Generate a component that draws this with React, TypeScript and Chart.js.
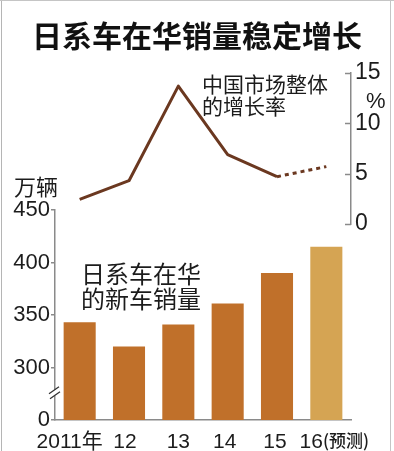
import React, { useEffect, useRef } from "react";
import { Chart, registerables } from "chart.js";

Chart.register(...registerables);

const categories = ["2011年", "12", "13", "14", "15", "16(预测)"];
const salesValues = [343, 320, 341, 361, 390, 415];
const growthValues = [2.45, 4.3, 13.7, 6.9, 4.7, 5.7];
const leftTicks = [250, 300, 350, 400, 450];
const leftTickLabels = ["0", "300", "350", "400", "450"];
const rightTicks = [0, 5, 10, 15];

const X_LABEL_SHIFT = [-10, -4, 0, -3, -2, 8];
const BAR_COLOR = "#c0702a";
const BAR_FORECAST = "#d5a453";
const LINE_COLOR = "#6b3820";
const AXIS_COLOR = "#8a8a8a";
const TEXT_COLOR = "#1c1c1c";
const CJK = '"Noto Sans CJK SC", sans-serif';
const NUM = '"Liberation Sans", "Noto Sans CJK SC", sans-serif';

const W = 394;
const H = 451;

export default function App() {
  const barRef = useRef<HTMLCanvasElement | null>(null);
  const lineRef = useRef<HTMLCanvasElement | null>(null);

  useEffect(() => {
    if (!barRef.current || !lineRef.current) return;

    const xLabelPlugin = {
      id: "xLabels",
      afterDraw(chart: any) {
        const { ctx } = chart;
        const x = chart.scales.x;
        ctx.save();
        ctx.fillStyle = TEXT_COLOR;
        ctx.textBaseline = "alphabetic";
        ctx.textAlign = "left";
        const base = 448;
        categories.forEach((lab, i) => {
          const cx = x.getPixelForValue(i) + X_LABEL_SHIFT[i];
          const idx = lab.indexOf("(");
          const main = idx >= 0 ? lab.slice(0, idx) : lab;
          const extra = idx >= 0 ? lab.slice(idx) : "";
          ctx.font = `21px ${NUM}`;
          const w1 = ctx.measureText(main).width;
          ctx.font = `500 17px ${CJK}`;
          const w2 = extra ? ctx.measureText(extra).width : 0;
          const start = cx - (w1 + w2) / 2;
          ctx.font = `21px ${NUM}`;
          ctx.fillText(main, start, base);
          if (extra) {
            ctx.font = `500 17px ${CJK}`;
            ctx.fillText(extra, start + w1, base - 1);
          }
        });
        ctx.restore();
      },
    };

    const breakPlugin = {
      id: "axisBreak",
      afterDraw(chart: any) {
        const { ctx } = chart;
        const y = chart.scales.y;
        const py = y.getPixelForValue(276);
        const ax = chart.chartArea.left;
        ctx.save();
        ctx.fillStyle = "#ffffff";
        ctx.fillRect(ax - 3, py - 3, 7, 6);
        ctx.strokeStyle = "#333";
        ctx.lineWidth = 1.3;
        ctx.beginPath();
        ctx.moveTo(ax - 6, py + 1);
        ctx.lineTo(ax + 4, py - 6);
        ctx.moveTo(ax - 5, py + 6);
        ctx.lineTo(ax + 5, py - 1);
        ctx.stroke();
        ctx.restore();
      },
    };

    const barChart = new Chart(barRef.current, {
      type: "bar",
      data: {
        labels: categories,
        datasets: [
          {
            data: salesValues,
            backgroundColor: salesValues.map((_, i) =>
              i === salesValues.length - 1 ? BAR_FORECAST : BAR_COLOR
            ),
            borderWidth: 0,
            barPercentage: 0.65,
            categoryPercentage: 1,
          },
        ],
      },
      options: {
        responsive: false,
        animation: false,
        events: [],
        layout: { padding: { left: 0, right: 43, top: 210, bottom: 0 } },
        plugins: { legend: { display: false }, tooltip: { enabled: false } },
        scales: {
          x: {
            offset: true,
            grid: { display: false },
            border: { display: true, color: AXIS_COLOR, width: 1.5 },
            ticks: { display: false },
            afterFit: (s: any) => {
              s.height = 31;
            },
          },
          y: {
            min: 250,
            max: 450,
            afterBuildTicks: (s: any) => {
              s.ticks = leftTicks.map((v) => ({ value: v }));
            },
            afterFit: (s: any) => {
              s.width = 55;
            },
            grid: {
              drawOnChartArea: false,
              drawTicks: true,
              tickLength: 4,
              color: AXIS_COLOR,
              lineWidth: 1.5,
            },
            border: { display: true, color: AXIS_COLOR, width: 1.5 },
            ticks: {
              padding: 1,
              color: TEXT_COLOR,
              font: { family: NUM, size: 22 },
              callback: (v: any) => {
                const k = leftTicks.indexOf(Number(v));
                return k >= 0 ? leftTickLabels[k] : "";
              },
            },
          },
        },
      },
      plugins: [xLabelPlugin, breakPlugin],
    });

    const innerTickPlugin = {
      id: "innerTicks",
      afterDraw(chart: any) {
        const { ctx } = chart;
        const y = chart.scales.y;
        ctx.save();
        ctx.strokeStyle = AXIS_COLOR;
        ctx.lineWidth = 1.5;
        ctx.beginPath();
        rightTicks.forEach((v) => {
          const py = Math.round(y.getPixelForValue(v)) + 0.5;
          ctx.moveTo(y.left - 6, py);
          ctx.lineTo(y.left, py);
        });
        ctx.stroke();
        ctx.restore();
      },
    };

    const lineChart = new Chart(lineRef.current, {
      type: "line",
      data: {
        labels: categories,
        datasets: [
          {
            data: growthValues,
            borderColor: LINE_COLOR,
            borderWidth: 3,
            pointRadius: 0,
            tension: 0,
            fill: false,
            borderJoinStyle: "round",
            segment: {
              borderDash: (ctx: any) =>
                ctx.p0DataIndex === growthValues.length - 2 ? [4, 4] : undefined,
            },
          },
        ],
      },
      options: {
        responsive: false,
        animation: false,
        events: [],
        layout: { padding: { left: 55, right: 0, top: 73, bottom: 227 } },
        plugins: { legend: { display: false }, tooltip: { enabled: false } },
        scales: {
          x: {
            display: false,
            offset: true,
          },
          y: {
            position: "right",
            min: 0,
            max: 15,
            afterBuildTicks: (s: any) => {
              s.ticks = rightTicks.map((v) => ({ value: v }));
            },
            afterFit: (s: any) => {
              s.width = 43;
            },
            grid: { drawOnChartArea: false, drawTicks: false },
            border: { display: true, color: AXIS_COLOR, width: 1.5 },
            ticks: {
              padding: 4,
              color: TEXT_COLOR,
              font: { family: NUM, size: 23 },
            },
          },
        },
      },
      plugins: [innerTickPlugin],
    });

    return () => {
      barChart.destroy();
      lineChart.destroy();
    };
  }, []);

  const abs = (style: React.CSSProperties): React.CSSProperties => ({
    position: "absolute",
    whiteSpace: "nowrap",
    margin: 0,
    ...style,
  });

  return (
    <div
      style={{
        position: "fixed",
        left: 0,
        top: 0,
        width: W,
        height: H,
        background: "#ffffff",
        overflow: "hidden",
      }}
    >
      <canvas
        ref={barRef}
        width={W}
        height={H}
        style={{ position: "absolute", left: 0, top: 0, width: W, height: H }}
      />
      <canvas
        ref={lineRef}
        width={W}
        height={H}
        style={{ position: "absolute", left: 0, top: 0, width: W, height: H }}
      />
      <div
        style={abs({
          left: 0,
          width: W,
          top: 19,
          textAlign: "center",
          fontFamily: CJK,
          fontWeight: 700,
          fontSize: 30,
          lineHeight: "30px",
          color: "#111",
        })}
      >
        日系车在华销量稳定增长
      </div>
      <div
        style={abs({
          left: 202,
          top: 72,
          fontFamily: CJK,
          fontSize: 21,
          lineHeight: "22px",
          color: TEXT_COLOR,
        })}
      >
        中国市场整体
        <br />
        的增长率
      </div>
      <div
        style={abs({
          left: 366,
          top: 90,
          fontFamily: NUM,
          fontSize: 22,
          lineHeight: "22px",
          color: TEXT_COLOR,
        })}
      >
        %
      </div>
      <div
        style={abs({
          left: 14,
          top: 174,
          fontFamily: CJK,
          fontSize: 22,
          lineHeight: "22px",
          color: TEXT_COLOR,
        })}
      >
        万辆
      </div>
      <div
        style={abs({
          left: 81,
          top: 260,
          fontFamily: CJK,
          fontSize: 24,
          lineHeight: "25px",
          color: TEXT_COLOR,
        })}
      >
        日系车在华
        <br />
        的新车销量
      </div>
      <div style={abs({ left: 1, top: 0, width: 1, height: H, background: "#b5b5b5" })} />
      <div style={abs({ left: 0, top: 0, width: W, height: 1, background: "#c5c5c5" })} />
      <div style={abs({ left: 390, top: 0, width: 1, height: H, background: "#c5c5c5" })} />
    </div>
  );
}
